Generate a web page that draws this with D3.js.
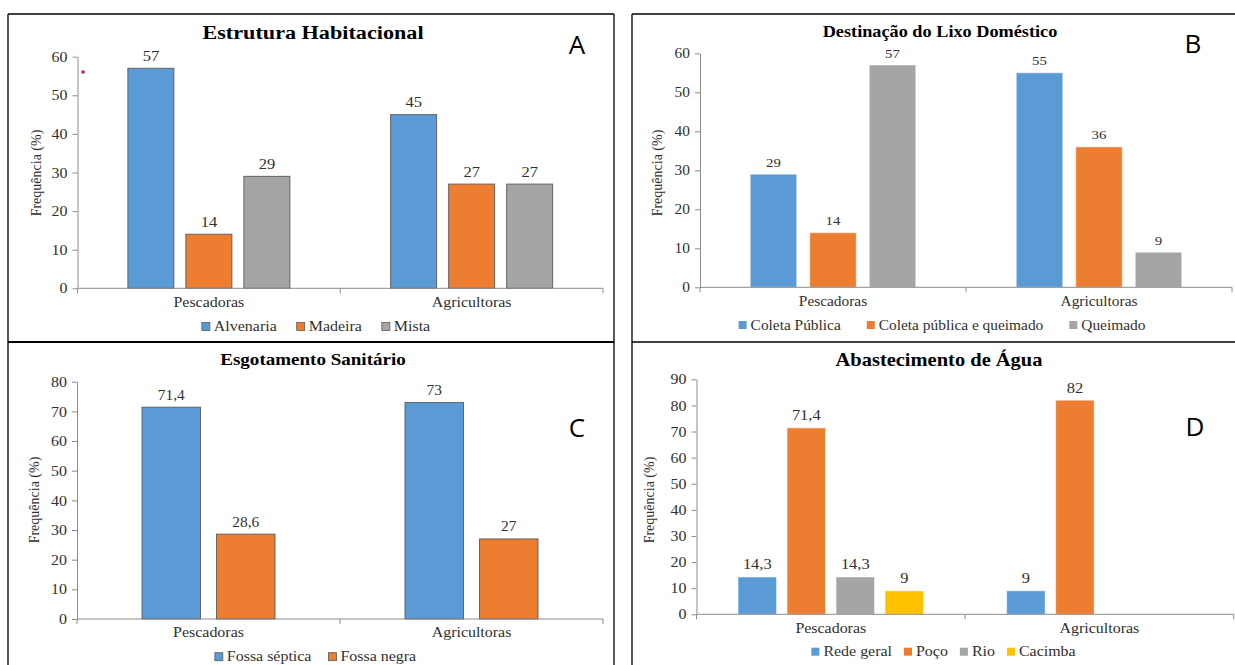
<!DOCTYPE html>
<html>
<head>
<meta charset="utf-8">
<script src="https://cdn.jsdelivr.net/npm/d3@7"></script>
<style>
  html, body { margin: 0; padding: 0; background: #fff; }
  svg { display: block; }
</style>
</head>
<body>
<svg id="fig" width="1235" height="665"></svg>
<script>
// ---- data ----
const categories = ["Pescadoras", "Agricultoras"];

const habitacaoSeries = ["Alvenaria", "Madeira", "Mista"];
const habitacaoValues = [[57, 45], [14, 27], [29, 27]];
const habitacaoTicks = [0, 10, 20, 30, 40, 50, 60];

const lixoSeries = ["Coleta Pública", "Coleta pública e queimado", "Queimado"];
const lixoValues = [[29, 55], [14, 36], [57, 9]];
const lixoTicks = [0, 10, 20, 30, 40, 50, 60];

const esgotoSeries = ["Fossa séptica", "Fossa negra"];
const esgotoValues = [[71.4, 73], [28.6, 27]];
const esgotoTicks = [0, 10, 20, 30, 40, 50, 60, 70, 80];

const aguaSeries = ["Rede geral", "Poço", "Rio", "Cacimba"];
const aguaValues = [[14.3, 9], [71.4, 82], [14.3, null], [9, null]];
const aguaTicks = [0, 10, 20, 30, 40, 50, 60, 70, 80, 90];

const seriesColors = ["#5B9BD5", "#ED7D31", "#A5A5A5", "#FFC000"];

// ---- styling / layout ----
const SERIF = "Liberation Serif, Times New Roman, serif";
const SANS = "Open Sans, Liberation Sans, sans-serif";
const SX = 1.1;               // horizontal stretch applied to serif text
const AXIS = "#8c8c8c";
const INK = "#303030";

const panels = [
  { title: "Estrutura Habitacional", letter: "A",
    series: habitacaoSeries, values: habitacaoValues, ticks: habitacaoTicks,
    x0: 77.5, x1: 603, y0: 288.3, yTop: 56.7, barW: 46, barGap: 12,
    titleX: 313, titleY: 39, titleSize: 19.8,
    letterX: 577, letterY: 54, ylabX: 36, ylabY: 173,
    catY: 306.7, legendX: 316, legendY: 326.5, legendGap: 20,
    tickSize: 14.5, valueSize: 15, catSize: 14.5, legendSize: 14.5, outlined: true },
  { title: "Destinação do Lixo Doméstico", letter: "B",
    series: lixoSeries, values: lixoValues, ticks: lixoTicks,
    x0: 700, x1: 1232, y0: 287.3, yTop: 53.3, barW: 46.5, barGap: 13,
    titleX: 940, titleY: 36.7, titleSize: 16.3,
    letterX: 1193, letterY: 53, ylabX: 657, ylabY: 173,
    catY: 306, legendX: 942, legendY: 325, legendGap: 26,
    tickSize: 14, valueSize: 13.5, catSize: 14, legendSize: 14, outlined: false },
  { title: "Esgotamento Sanitário", letter: "C",
    series: esgotoSeries, values: esgotoValues, ticks: esgotoTicks,
    x0: 77, x1: 603, y0: 619, yTop: 381.7, barW: 58.5, barGap: 16,
    titleX: 313, titleY: 365, titleSize: 17,
    letterX: 577, letterY: 437, ylabX: 34, ylabY: 500,
    catY: 636.7, legendX: 315.5, legendY: 656.7, legendGap: 17,
    tickSize: 14.5, valueSize: 14, catSize: 14.5, legendSize: 14.5, outlined: true },
  { title: "Abastecimento de Água", letter: "D",
    series: aguaSeries, values: aguaValues, ticks: aguaTicks,
    x0: 696.5, x1: 1233.7, y0: 614.3, yTop: 379.3, barW: 38.5, barGap: 10.5,
    titleX: 939, titleY: 365.7, titleSize: 18.3,
    letterX: 1195, letterY: 436, ylabX: 649.4, ylabY: 500,
    catY: 632.7, legendX: 943.5, legendY: 651.7, legendGap: 12,
    tickSize: 14.5, valueSize: 15, catSize: 14.5, legendSize: 14.5, outlined: false }
];

const svg = d3.select("#fig");
const fmtValue = v => String(v).replace(".", ",");

// serif text, stretched horizontally about its anchor point
function label(g, x, y, str, o) {
  return g.append("text")
    .attr("transform", `translate(${x},${y}) scale(${o.sx ?? SX},1)`)
    .attr("text-anchor", o.anchor || "middle")
    .style("font-family", o.family || SERIF)
    .style("font-size", o.size + "px")
    .style("font-weight", o.weight || "normal")
    .attr("fill", o.fill || INK)
    .text(str);
}

function drawPanel(p) {
  const g = svg.append("g");

  const x = d3.scaleBand().domain(categories).range([p.x0, p.x1]);
  const y = d3.scaleLinear().domain([0, d3.max(p.ticks)]).range([p.y0, p.yTop]);
  const n = p.series.length;
  const groupW = n * p.barW + (n - 1) * p.barGap;
  const inner = d3.scaleBand().domain(p.series)
    .range([-groupW / 2, groupW / 2])
    .paddingInner(p.barGap / (p.barW + p.barGap))
    .paddingOuter(0);

  const bars = [];
  p.series.forEach((s, si) => categories.forEach((c, ci) => {
    const v = p.values[si][ci];
    if (v != null) bars.push({ s, si, c, v });
  }));

  // bars
  g.append("g").selectAll("rect").data(bars).join("rect")
    .attr("x", d => x(d.c) + x.bandwidth() / 2 + inner(d.s))
    .attr("y", d => y(d.v))
    .attr("width", inner.bandwidth())
    .attr("height", d => y(0) - y(d.v))
    .attr("fill", d => seriesColors[d.si])
    .attr("stroke", p.outlined ? "#5a5a5a" : "#ffffff")
    .attr("stroke-opacity", p.outlined ? 0.9 : 0.5)
    .attr("stroke-width", 1);

  // value labels
  const vl = g.append("g");
  bars.forEach(d => {
    label(vl, x(d.c) + x.bandwidth() / 2 + inner(d.s) + inner.bandwidth() / 2,
      y(d.v) - 7.5, fmtValue(d.v), { size: p.valueSize });
  });

  // y axis
  const ya = g.append("g").attr("transform", `translate(${p.x0},0)`)
    .call(d3.axisLeft(y).tickValues(p.ticks).tickSize(5).tickSizeOuter(0).tickPadding(0));
  ya.attr("font-family", null).attr("font-size", null);
  ya.select(".domain").attr("stroke", AXIS);
  ya.selectAll(".tick line").attr("stroke", AXIS);
  ya.selectAll(".tick text")
    .attr("x", -10 / SX)
    .attr("transform", `scale(${SX},1)`)
    .style("font-family", SERIF)
    .style("font-size", p.tickSize + "px")
    .attr("fill", INK);

  // x axis: baseline with ticks at the category boundaries
  const xa = g.append("g");
  xa.append("line")
    .attr("x1", p.x0).attr("x2", p.x1).attr("y1", y(0)).attr("y2", y(0))
    .attr("stroke", AXIS);
  const edges = [x.range()[0], ...categories.slice(1).map(c => x(c)), x.range()[1]];
  xa.selectAll("line.edge").data(edges).join("line")
    .attr("class", "edge")
    .attr("x1", d => d).attr("x2", d => d)
    .attr("y1", y(0)).attr("y2", y(0) + 5)
    .attr("stroke", AXIS);
  categories.forEach(c => label(xa, x(c) + x.bandwidth() / 2, p.catY, c, { size: p.catSize }));

  // y axis title
  g.append("text")
    .attr("transform", `translate(${p.ylabX},${p.ylabY}) rotate(-90)`)
    .attr("text-anchor", "middle")
    .attr("dy", "0.35em")
    .style("font-family", SERIF)
    .style("font-size", "14px")
    .attr("fill", INK)
    .text("Frequência (%)");

  // chart title
  label(g, p.titleX, p.titleY, p.title, { size: p.titleSize, weight: "bold", fill: "#000", sx: 1.12 });

  // panel letter
  g.append("text")
    .attr("x", p.letterX).attr("y", p.letterY)
    .attr("text-anchor", "middle")
    .style("font-family", SANS)
    .style("font-size", "26px")
    .attr("fill", "#000")
    .text(p.letter);

  // legend, laid out left to right and centred on legendX
  const lg = g.append("g");
  const sq = 8;
  let cursor = 0;
  p.series.forEach((s, si) => {
    lg.append("rect")
      .attr("x", cursor).attr("y", p.legendY - sq / 2)
      .attr("width", sq).attr("height", sq)
      .attr("fill", seriesColors[si])
      .attr("stroke", p.outlined ? "#5a5a5a" : "none")
      .attr("stroke-width", 0.8);
    const t = label(lg, cursor + sq + 4, p.legendY + 4.6, s,
      { size: p.legendSize, anchor: "start" });
    cursor += sq + 4 + t.node().getComputedTextLength() * SX;
    if (si < n - 1) cursor += p.legendGap;
  });
  lg.attr("transform", `translate(${p.legendX - cursor / 2},0)`);
}

panels.forEach(drawPanel);

// small red mark inside panel A
svg.append("rect").attr("x", 81.5).attr("y", 70.5).attr("width", 3).attr("height", 3).attr("fill", "#e0141e");

// panel frames
const frame = svg.append("g").attr("stroke", "#000").attr("fill", "none");
[
  [8, 14, 614, 14, 1.3], [632, 14, 1235, 14, 1.3],
  [8, 342, 614, 342, 2.2], [632, 342, 1235, 342, 1.6],
  [8, 14, 8, 665, 1.3], [614, 14, 614, 665, 1.3], [632, 14, 632, 665, 1.3]
].forEach(([x1, y1, x2, y2, w]) =>
  frame.append("line").attr("x1", x1).attr("y1", y1).attr("x2", x2).attr("y2", y2).attr("stroke-width", w));
</script>
</body>
</html>
